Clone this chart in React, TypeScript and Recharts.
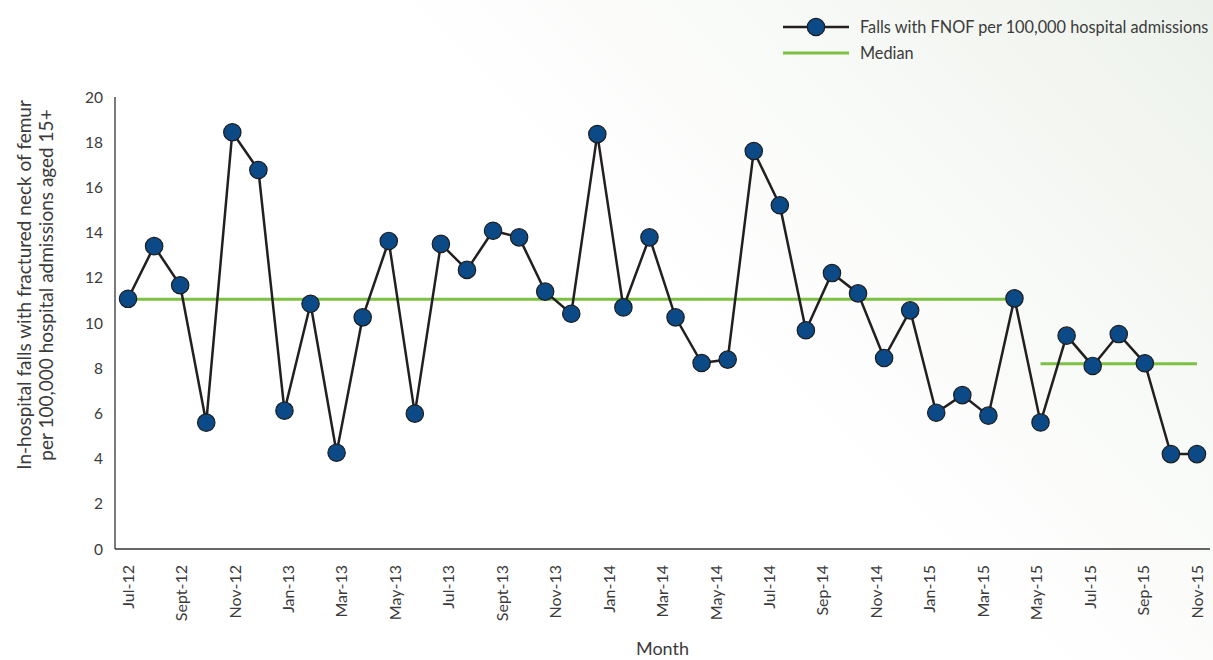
import React from "react";
import { LineChart, Line, XAxis, YAxis, Legend, Label } from "recharts";

const months = [
  "Jul-12", "Aug-12", "Sep-12", "Oct-12", "Nov-12", "Dec-12",
  "Jan-13", "Feb-13", "Mar-13", "Apr-13", "May-13", "Jun-13",
  "Jul-13", "Aug-13", "Sep-13", "Oct-13", "Nov-13", "Dec-13",
  "Jan-14", "Feb-14", "Mar-14", "Apr-14", "May-14", "Jun-14",
  "Jul-14", "Aug-14", "Sep-14", "Oct-14", "Nov-14", "Dec-14",
  "Jan-15", "Feb-15", "Mar-15", "Apr-15", "May-15", "Jun-15",
  "Jul-15", "Aug-15", "Sep-15", "Oct-15", "Nov-15", "Dec-15",
];

const falls = [
  11.07, 13.4, 11.67, 5.59, 18.44, 16.77, 6.12, 10.85, 4.26, 10.25,
  13.63, 5.99, 13.5, 12.35, 14.08, 13.79, 11.39, 10.41, 18.36, 10.69,
  13.79, 10.25, 8.23, 8.38, 17.61, 15.21, 9.68, 12.21, 11.31, 8.45,
  10.56, 6.03, 6.81, 5.9, 11.09, 5.6, 9.44, 8.1, 9.51, 8.22,
  4.2, 4.2,
];

// two median periods
const medianValues = [11.05, 8.2];
const medianStart = [0, 35];
const medianEnd = [34, 41];

const tickLabels = [
  "Jul-12", "Sept-12", "Nov-12", "Jan-13", "Mar-13", "May-13", "Jul-13",
  "Sept-13", "Nov-13", "Jan-14", "Mar-14", "May-14", "Jul-14", "Sep-14",
  "Nov-14", "Jan-15", "Mar-15", "May-15", "Jul-15", "Sep-15", "Nov-15",
];

const yTicks = [0, 2, 4, 6, 8, 10, 12, 14, 16, 18, 20];

const FONT = "Lato, 'Open Sans', sans-serif";
const TEXT = "#3b3b3b";
const NAVY = "#0b4a86";
const GREEN = "#7cc142";

const lastIdx = months.length - 1;
const xTicks = tickLabels.map((_, i) => (i * lastIdx) / (tickLabels.length - 1));

const data = months.map((m, i) => {
  const row: any = { x: i, month: m, falls: falls[i] };
  medianValues.forEach((v, k) => {
    row["median" + k] = i >= medianStart[k] && i <= medianEnd[k] ? v : null;
  });
  return row;
});

const MonthTick = (props: any) => {
  const { x, y, index } = props;
  return (
    <text
      x={x}
      y={y}
      transform={`rotate(-90 ${x} ${y})`}
      textAnchor="end"
      dy="0.35em"
      fontSize={16}
      fill={TEXT}
      fontFamily={FONT}
    >
      {tickLabels[index]}
    </text>
  );
};

const YTitle = (props: any) => {
  const cx = 36;
  const cy = 285;
  return (
    <text
      transform={`rotate(-90 ${cx} ${cy})`}
      x={cx}
      y={cy}
      textAnchor="middle"
      fontSize={19}
      fill={TEXT}
      fontFamily={FONT}
    >
      <tspan x={cx} dy="-5">In-hospital falls with fractured neck of femur</tspan>
      <tspan x={cx} dy="22">per 100,000 hospital admissions aged 15+</tspan>
    </text>
  );
};

const LegendBox = () => (
  <div style={{ fontFamily: FONT, fontSize: 16.3, color: TEXT, lineHeight: "26px" }}>
    <div style={{ display: "flex", alignItems: "center" }}>
      <svg width={66} height={26} style={{ marginRight: 11 }}>
        <line x1={0} y1={13} x2={66} y2={13} stroke="#231f20" strokeWidth={2.5} />
        <circle cx={33} cy={13} r={8.7} fill={NAVY} stroke="#1d1d1d" strokeWidth={1.2} />
      </svg>
      <span>Falls with FNOF per 100,000 hospital admissions</span>
    </div>
    <div style={{ display: "flex", alignItems: "center" }}>
      <svg width={66} height={26} style={{ marginRight: 11 }}>
        <line x1={0} y1={13} x2={66} y2={13} stroke={GREEN} strokeWidth={3} />
      </svg>
      <span>Median</span>
    </div>
  </div>
);

export default function App() {
  return (
    <div
      style={{
        position: "absolute",
        top: 0,
        left: 0,
        width: 1213,
        height: 660,
        background: "linear-gradient(225deg, #edf1eb 0%, #f8faf7 25%, #ffffff 45%)",
      }}
    >
      <LineChart
        width={1213}
        height={660}
        data={data}
        margin={{ top: 97, right: 3, bottom: 0, left: 0 }}
      >
        <XAxis
          type="number"
          dataKey="x"
          domain={[-0.5, lastIdx + 0.5]}
          ticks={xTicks}
          interval={0}
          tickLine={false}
          tickSize={0}
          tickMargin={16}
          axisLine={{ stroke: "#333", strokeWidth: 1.3 }}
          tick={<MonthTick />}
          height={111}
        >
          <Label
            value="Month"
            position="insideBottom"
            offset={0}
            content={(p: any) => (
              <text
                x={p.viewBox.x + p.viewBox.width / 2}
                y={655}
                textAnchor="middle"
                fontSize={18}
                fill={TEXT}
                fontFamily={FONT}
              >
                Month
              </text>
            )}
          />
        </XAxis>
        <YAxis
          type="number"
          domain={[0, 20]}
          ticks={yTicks}
          interval={0}
          width={115}
          tickLine={false}
          tickSize={0}
          tickMargin={12}
          axisLine={{ stroke: "#333", strokeWidth: 1.3 }}
          tick={{ fontSize: 15.5, fill: TEXT, fontFamily: FONT }}
        >
          <Label content={<YTitle />} />
        </YAxis>
        <Legend
          layout="horizontal"
          verticalAlign="middle"
          align="center"
          content={<LegendBox />}
          wrapperStyle={{ top: 14, left: 783, width: 430 }}
        />
        {medianValues.map((_, k) => (
          <Line
            key={k}
            type="linear"
            dataKey={"median" + k}
            stroke={GREEN}
            strokeWidth={3}
            dot={false}
            activeDot={false}
            connectNulls={false}
            isAnimationActive={false}
          />
        ))}
        <Line
          type="linear"
          dataKey="falls"
          stroke="#231f20"
          strokeWidth={2.5}
          dot={{ r: 8.7, fill: NAVY, stroke: "#1d1d1d", strokeWidth: 1.2 }}
          activeDot={false}
          isAnimationActive={false}
        />
      </LineChart>
    </div>
  );
}
